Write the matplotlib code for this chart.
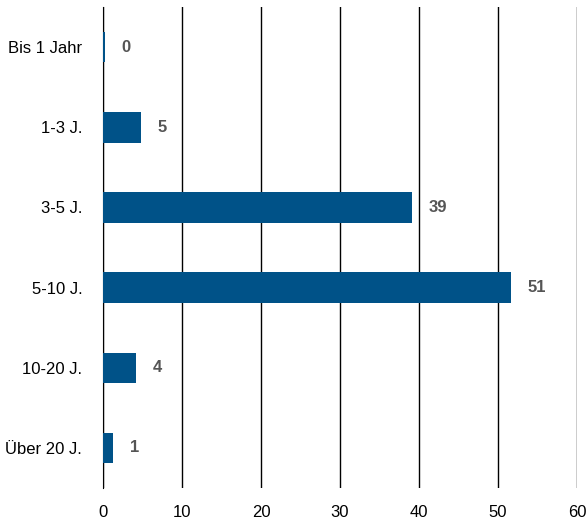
import matplotlib
matplotlib.use("Agg")
import matplotlib.pyplot as plt

plt.rcParams['font.family'] = ['Liberation Sans', 'DejaVu Sans']

categories = ["Bis 1 Jahr", "1-3 J.", "3-5 J.", "5-10 J.", "10-20 J.", "Über 20 J."]
values = [0.2, 4.8, 39.1, 51.6, 4.2, 1.3]
labels = ["0", "5", "39", "51", "4", "1"]
xticks = [0, 10, 20, 30, 40, 50, 60]

fig = plt.figure(figsize=(5.87, 5.25), dpi=100)
ax = fig.add_axes([0.1755, 0.0705, 0.8075, 0.916])
y = list(range(len(categories)))
ax.barh(y, values, height=0.38, color="#005288", zorder=3)
for yi, v, l in zip(y, values, labels):
    ax.text(v + 2.1, yi, l, va="center", ha="left", fontsize=12, fontweight="bold", color="#555555")
ax.set_yticks(y)
ax.set_yticklabels(categories, fontsize=12)
ax.set_ylim(5.5, -0.5)
ax.set_xlim(0, 60)
ax.set_xticks(xticks)
ax.set_xticklabels([str(t) for t in xticks], fontsize=12)
ax.grid(axis="x", color="black", linewidth=1, zorder=0)
for s in ["top", "right", "bottom"]:
    ax.spines[s].set_visible(False)
ax.spines["left"].set_color("black")
ax.tick_params(axis="y", length=0, pad=15)
ax.tick_params(axis="x", length=0, pad=12)
fig.savefig("out.png", dpi=100)
